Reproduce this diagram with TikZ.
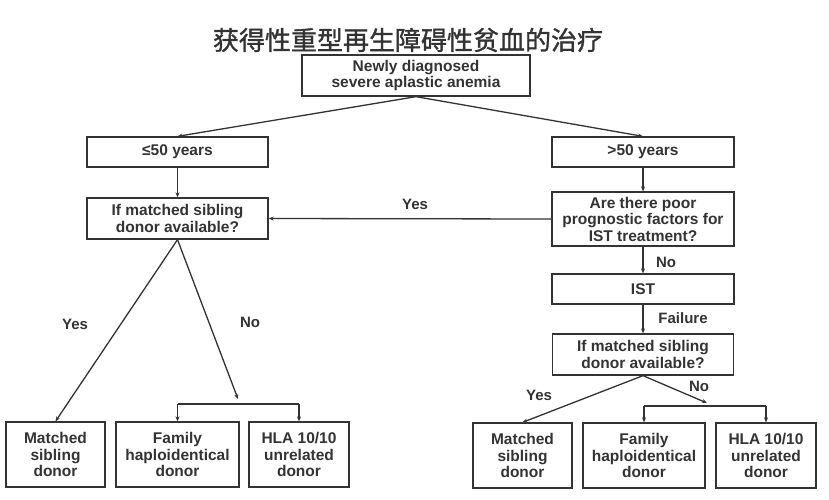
\documentclass[tikz,border=0pt]{standalone}
\usepackage{fontspec}
\setmainfont{Liberation Sans}
\newfontfamily\cjk[FakeBold=1.2]{Noto Sans CJK SC}
\usetikzlibrary{arrows.meta}
\definecolor{ink}{HTML}{333333}
\begin{document}
\begin{tikzpicture}[x=1pt,y=-1pt,
  box/.style={draw=ink,line width=1.3pt,rectangle,inner sep=0pt,align=center,
    font=\fontsize{15.5}{16.5}\selectfont\bfseries,text=ink},
  conn/.style={draw=ink,line width=1.3pt,-{Stealth[length=5pt,width=4pt]}},
  plain/.style={draw=ink,line width=1.3pt},
  lab/.style={font=\fontsize{15}{16}\selectfont\bfseries,text=ink,inner sep=0pt}]
\useasboundingbox (0,0) rectangle (829,499);
\fill[white] (0,0) rectangle (829,499);
\node[text=ink,font=\cjk\fontsize{26}{28}\selectfont,inner sep=0pt] (title) at (408,40) {获得性重型再生障碍性贫血的治疗};
\node[box,minimum width=228pt,minimum height=41pt] (top) at (416,75.5) {Newly diagnosed\\severe aplastic anemia};
\node[box,minimum width=181pt,minimum height=30pt] (le50) at (177.5,152) {≤50 years};
\node[box,minimum width=182pt,minimum height=30pt] (gt50) at (643,152) {>50 years};
\node[box,minimum width=181pt,minimum height=41pt] (ldec) at (177.5,218.5) {If matched sibling\\donor available?};
\node[box,minimum width=182pt,minimum height=54pt] (prog) at (643,219) {Are there poor\\prognostic factors for\\IST treatment?};
\node[box,minimum width=182pt,minimum height=30pt] (ist) at (643,289) {IST};
\node[box,minimum width=181pt,minimum height=41pt] (rdec) at (643,354.5) {If matched sibling\\donor available?};
\node[box,minimum width=99pt,minimum height=65pt] (lm) at (55.5,454.5) {Matched\\sibling\\donor};
\node[box,minimum width=123pt,minimum height=65pt] (lf) at (177.5,454.5) {Family\\haploidentical\\donor};
\node[box,minimum width=100pt,minimum height=65pt] (lh) at (299,454.5) {HLA 10/10\\unrelated\\donor};
\node[box,minimum width=99pt,minimum height=65pt] (rm) at (522.5,455.5) {Matched\\sibling\\donor};
\node[box,minimum width=122pt,minimum height=65pt] (rf) at (644,455.5) {Family\\haploidentical\\donor};
\node[box,minimum width=100pt,minimum height=65pt] (rh) at (766,455.5) {HLA 10/10\\unrelated\\donor};
% connectors
\draw[conn] (top.south) -- (le50.north);
\draw[conn] (top.south) -- (gt50.north);
\draw[conn] (le50.south) -- (ldec.north);
\draw[conn] (gt50.south) -- (prog.north);
\draw[conn] (prog.west) -- (ldec.east);
\node[lab] (lyes) at (415,204) {Yes};
\draw[conn] (prog.south) -- (ist.north);
\node[lab] (lno) at (666,262) {No};
\draw[conn] (ist.south) -- (rdec.north);
\node[lab] (lfail) at (683,318) {Failure};
% left branch
\coordinate (lnoend) at (238,399);
\draw[conn] (ldec.south) -- (lm.north);
\draw[conn] (ldec.south) -- (lnoend);
\node[lab] (lyes2) at (75,324) {Yes};
\node[lab] (lno2) at (250,322) {No};
\coordinate (lbl) at (177.5,404);
\coordinate (lbr) at (299,404);
\draw[plain] (lbl) -- (lbr);
\draw[conn] (lbl) -- (lf.north);
\draw[conn] (lbr) -- (lh.north);
% right branch
\coordinate (rnoend) at (707,403);
\draw[conn] (rdec.south) -- (rm.north);
\draw[conn] (rdec.south) -- (rnoend);
\node[lab] (ryes) at (539,395) {Yes};
\node[lab] (rno) at (699,386) {No};
\coordinate (rbl) at (644,406);
\coordinate (rbr) at (766,406);
\draw[plain] (rbl) -- (rbr);
\draw[conn] (rbl) -- (rf.north);
\draw[conn] (rbr) -- (rh.north);
\end{tikzpicture}
\end{document}
